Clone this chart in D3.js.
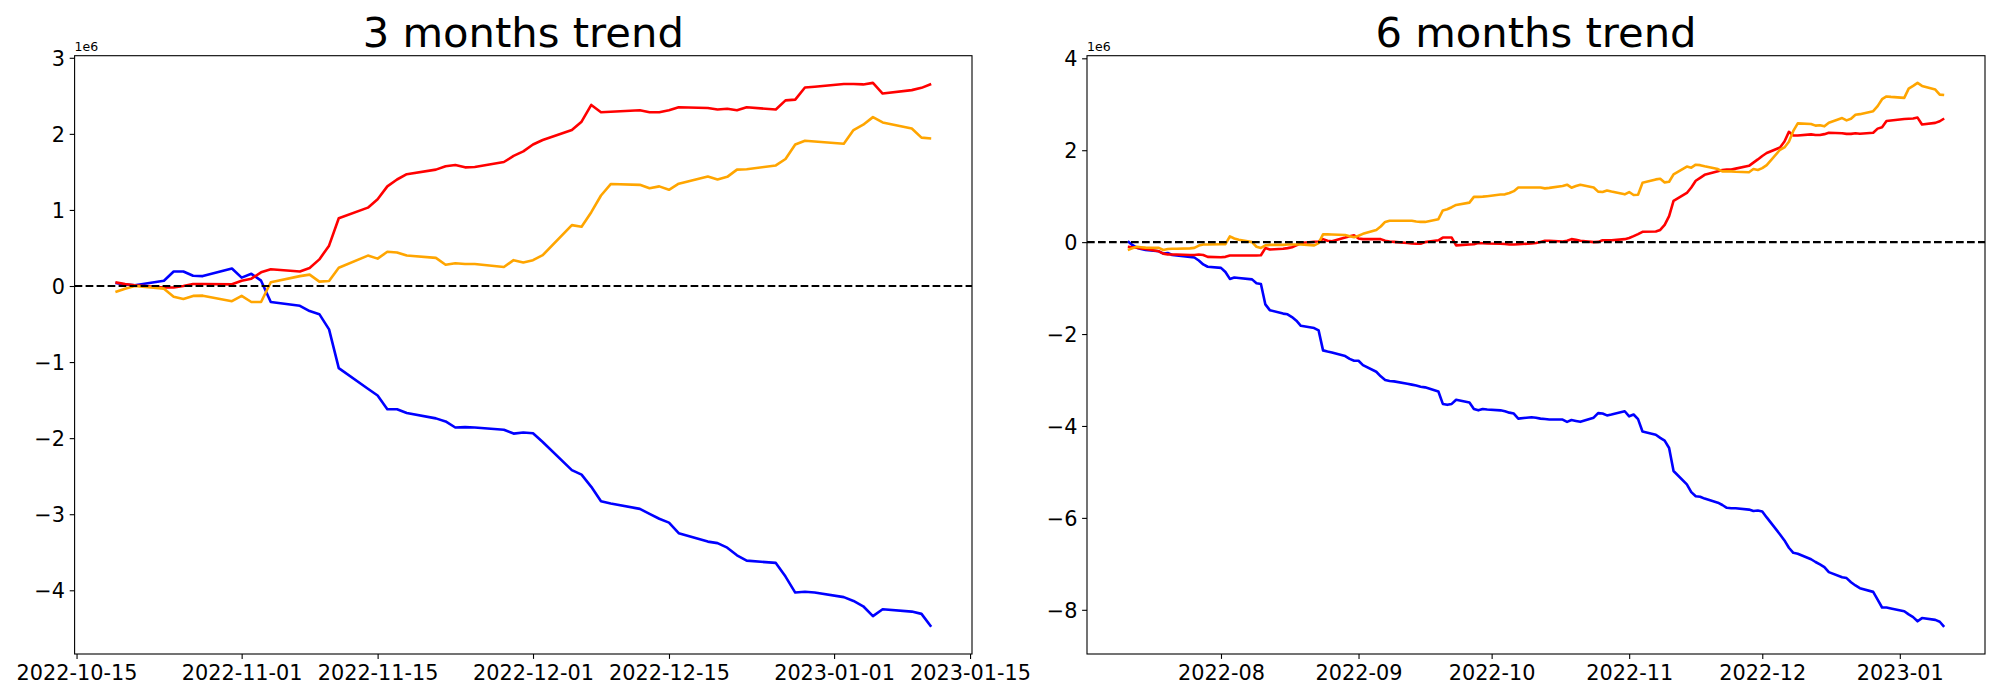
<!DOCTYPE html>
<html lang="en">
<head>
<meta charset="UTF-8">
<title>3 and 6 months trend</title>
<script src="https://d3js.org/d3.v7.min.js"></script>
<style>
  body { margin: 0; background: #fff; }
  svg { display: block; font-family: "DejaVu Sans", sans-serif; }
</style>
</head>
<body>
<svg id="chart" width="2000" height="700"></svg>
<script>
// values in units of 1e6, one per business day
const range3 = ["2022-10-19", "2023-01-11"];
const red3 = [0.048, 0.026, 0.01,
  -0.02, -0.02, 0.0, 0.026, 0.026,
  0.022, 0.07, 0.096, 0.18, 0.22,
  0.19, 0.236, 0.35, 0.53, 0.89,
  1.03, 1.14, 1.31, 1.40, 1.47,
  1.53, 1.575, 1.59, 1.56, 1.565,
  1.63, 1.71, 1.77, 1.86, 1.92,
  2.05, 2.16, 2.38, 2.285, 2.29,
  2.31, 2.285, 2.285, 2.31, 2.35,
  2.34, 2.32, 2.33, 2.31, 2.35,
  2.32, 2.44, 2.45, 2.61, 2.62,
  2.656, 2.656, 2.65, 2.67, 2.53,
  2.575, 2.605, 2.656];
const orange3 = [-0.079, -0.035, 0.0,
  -0.035, -0.14, -0.17, -0.13, -0.127,
  -0.2, -0.13, -0.21, -0.21, 0.05,
  0.13, 0.15, 0.057, 0.066, 0.24,
  0.40, 0.36, 0.45, 0.44, 0.40,
  0.37, 0.28, 0.30, 0.29, 0.29,
  0.25, 0.34, 0.31, 0.34, 0.405,
  0.80, 0.78, 0.97, 1.19, 1.34,
  1.33, 1.285, 1.31, 1.265, 1.345,
  1.44, 1.40, 1.435, 1.53, 1.535,
  1.585, 1.67, 1.86, 1.91, 1.90,
  1.87, 2.05, 2.12, 2.22, 2.15,
  2.07, 1.95, 1.94];
const blue3 = [0.04, 0.02, 0.01,
  0.07, 0.19, 0.19, 0.135, 0.13,
  0.23, 0.11, 0.16, 0.07, -0.21,
  -0.26, -0.33, -0.37, -0.57, -1.08,
  -1.35, -1.44, -1.62, -1.62, -1.67,
  -1.74, -1.78, -1.86, -1.855, -1.86,
  -1.89, -1.94, -1.925, -1.935, -2.05,
  -2.42, -2.48, -2.64, -2.83, -2.86,
  -2.93, -2.995, -3.06, -3.11, -3.25,
  -3.36, -3.38, -3.44, -3.54, -3.61,
  -3.64, -3.82, -4.03, -4.02, -4.03,
  -4.09, -4.14, -4.21, -4.34, -4.25,
  -4.28, -4.31, -4.48];

const range6 = ["2022-07-11", "2023-01-11"];
const red6 = [-0.10, -0.11, -0.12, -0.135, -0.15,
  -0.20, -0.25, -0.27, -0.27, -0.27,
  -0.28, -0.28, -0.27, -0.28, -0.32,
  -0.33, -0.32, -0.29, -0.29, -0.29,
  -0.29, -0.29, -0.285, -0.13, -0.16,
  -0.145, -0.13, -0.11, -0.07, -0.02,
  0.01, 0.015, 0.065, 0.03, 0.02,
  0.10, 0.13, 0.15, 0.08, 0.065,
  0.065, 0.065, 0.03, 0.015, 0.005,
  -0.02, -0.03, -0.035, -0.035, 0.0,
  0.04, 0.10, 0.10, 0.10, -0.07,
  -0.05, -0.045, -0.02, -0.025, -0.03,
  -0.035, -0.04, -0.05, -0.05, -0.045,
  -0.03, -0.02, 0.005, 0.03, 0.03,
  0.015, 0.03, 0.065, 0.05, 0.03,
  0.0, 0.005, 0.04, 0.04, 0.04,
  0.065, 0.09, 0.13, 0.175, 0.225,
  0.23, 0.265, 0.375, 0.565, 0.90,
  1.07, 1.19, 1.335, 1.40, 1.465,
  1.54, 1.57, 1.58, 1.58, 1.60,
  1.66, 1.73, 1.80, 1.875, 1.94,
  2.06, 2.19, 2.40, 2.32, 2.32,
  2.345, 2.33, 2.33, 2.35, 2.38,
  2.37, 2.355, 2.355, 2.37, 2.36,
  2.38, 2.47, 2.50, 2.635, 2.645,
  2.68, 2.685, 2.69, 2.71, 2.56,
  2.595, 2.63, 2.69];
const orange6 = [-0.17, -0.135, -0.10, -0.11, -0.12,
  -0.125, -0.17, -0.15, -0.145, -0.145,
  -0.135, -0.125, -0.075, -0.05, -0.05,
  -0.045, -0.045, 0.125, 0.08, 0.05,
  0.0, -0.10, -0.125, -0.07, -0.06,
  -0.06, -0.05, -0.05, -0.05, -0.05,
  -0.07, -0.02, 0.17, 0.17, 0.165,
  0.155, 0.13, 0.105, 0.14, 0.18,
  0.265, 0.34, 0.44, 0.465, 0.465,
  0.465, 0.465, 0.45, 0.44, 0.44,
  0.50, 0.69, 0.715, 0.76, 0.81,
  0.86, 0.985, 0.985, 0.99, 1.0,
  1.035, 1.04, 1.07, 1.11, 1.19,
  1.19, 1.19, 1.19, 1.17, 1.18,
  1.22, 1.25, 1.185, 1.22, 1.25,
  1.19, 1.10, 1.09, 1.125, 1.10,
  1.04, 1.09, 1.025, 1.03, 1.29,
  1.365, 1.38, 1.30, 1.315, 1.475,
  1.645, 1.62, 1.685, 1.675, 1.65,
  1.59, 1.54, 1.54, 1.54, 1.53,
  1.52, 1.59, 1.57, 1.61, 1.675,
  2.01, 2.06, 2.185, 2.42, 2.585,
  2.57, 2.535, 2.545, 2.52, 2.60,
  2.70, 2.65, 2.685, 2.77, 2.785,
  2.85, 2.96, 3.11, 3.17, 3.16,
  3.14, 3.34, 3.40, 3.465, 3.40,
  3.32, 3.21, 3.20];
const blue6 = [0.02, -0.06, -0.12, -0.15, -0.17,
  -0.20, -0.25, -0.235, -0.28, -0.29,
  -0.32, -0.335, -0.40, -0.485, -0.535,
  -0.56, -0.65, -0.80, -0.77, -0.78,
  -0.81, -0.895, -0.91, -1.355, -1.48,
  -1.555, -1.57, -1.63, -1.71, -1.82,
  -1.87, -1.92, -2.355, -2.38, -2.40,
  -2.48, -2.54, -2.58, -2.58, -2.675,
  -2.82, -2.92, -3.0, -3.02, -3.03,
  -3.08, -3.10, -3.12, -3.145, -3.16,
  -3.25, -3.52, -3.54, -3.52, -3.43,
  -3.49, -3.63, -3.66, -3.63, -3.64,
  -3.66, -3.68, -3.71, -3.73, -3.84,
  -3.81, -3.82, -3.84, -3.85, -3.86,
  -3.86, -3.91, -3.87, -3.89, -3.91,
  -3.82, -3.72, -3.73, -3.77, -3.75,
  -3.68, -3.79, -3.75, -3.85, -4.12,
  -4.19, -4.26, -4.32, -4.48, -4.98,
  -5.27, -5.44, -5.53, -5.54, -5.58,
  -5.67, -5.72, -5.78, -5.79, -5.79,
  -5.82, -5.85, -5.84, -5.86, -5.99,
  -6.36, -6.49, -6.65, -6.76, -6.78,
  -6.90, -6.96, -7.01, -7.07, -7.18,
  -7.29, -7.31, -7.40, -7.47, -7.53,
  -7.61, -7.78, -7.95, -7.95, -7.97,
  -8.03, -8.10, -8.16, -8.25, -8.18,
  -8.22, -8.26, -8.37];

const xTicks3 = ["2022-10-15", "2022-11-01", "2022-11-15", "2022-12-01", "2022-12-15", "2023-01-01", "2023-01-15"];
const xTicks6 = ["2022-08", "2022-09", "2022-10", "2022-11", "2022-12", "2023-01"];
const yTicks3 = [-4, -3, -2, -1, 0, 1, 2, 3];
const yTicks6 = [-8, -6, -4, -2, 0, 2, 4];

const parse = d3.utcParse("%Y-%m-%d");
const parseMonth = d3.utcParse("%Y-%m");

// weekdays between two dates (inclusive)
function businessDays(r) {
  const a = parse(r[0]), b = d3.utcDay.offset(parse(r[1]), 1);
  return d3.utcDay.range(a, b).filter(d => d.getUTCDay() !== 0 && d.getUTCDay() !== 6);
}

const panels = [
  {
    title: "3 months trend", left: 74.6, right: 972,
    dates: businessDays(range3),
    series: [["blue", blue3], ["red", red3], ["orange", orange3]],
    xTicks: xTicks3.map(parse), xFmt: d3.utcFormat("%Y-%m-%d"), yTicks: yTicks3
  },
  {
    title: "6 months trend", left: 1087, right: 1985,
    dates: businessDays(range6),
    series: [["blue", blue6], ["red", red6], ["orange", orange6]],
    xTicks: xTicks6.map(parseMonth), xFmt: d3.utcFormat("%Y-%m"), yTicks: yTicks6
  }
];

const axTop = 55.7, axBottom = 654;
const svg = d3.select("#chart");
const minus = s => s.replace("-", "\u2212");

panels.forEach(p => {
  const t0 = p.dates[0], t1 = p.dates[p.dates.length - 1];
  const dx = (t1 - t0) * 0.05;
  const x = d3.scaleUtc()
    .domain([new Date(+t0 - dx), new Date(+t1 + dx)])
    .range([p.left, p.right]);

  const all = p.series.flatMap(s => s[1]);
  const lo = d3.min(all), hi = d3.max(all), dy = (hi - lo) * 0.05;
  const y = d3.scaleLinear().domain([lo - dy, hi + dy]).range([axBottom, axTop]);

  const g = svg.append("g");

  const line = d3.line()
    .x((d, i) => x(p.dates[i]))
    .y(d => y(d));

  p.series.forEach(([color, vals]) => {
    g.append("path")
      .datum(vals)
      .attr("fill", "none")
      .attr("stroke", color)
      .attr("stroke-width", 2.6)
      .attr("stroke-linejoin", "round")
      .attr("d", line);
  });

  // zero reference
  g.append("line")
    .attr("x1", p.left).attr("x2", p.right)
    .attr("y1", y(0)).attr("y2", y(0))
    .attr("stroke", "#000")
    .attr("stroke-width", 2.1)
    .attr("stroke-dasharray", "7.7,3.3");

  // frame
  g.append("rect")
    .attr("x", p.left).attr("y", axTop)
    .attr("width", p.right - p.left).attr("height", axBottom - axTop)
    .attr("fill", "none").attr("stroke", "#000").attr("stroke-width", 1.1);

  const xAxis = g.append("g")
    .attr("transform", `translate(0,${axBottom})`)
    .call(d3.axisBottom(x).tickValues(p.xTicks).tickFormat(p.xFmt)
      .tickSize(4.9).tickSizeOuter(0).tickPadding(6.3));

  const yAxis = g.append("g")
    .attr("transform", `translate(${p.left},0)`)
    .call(d3.axisLeft(y).tickValues(p.yTicks).tickFormat(d => minus(String(d)))
      .tickSize(4.9).tickSizeOuter(0).tickPadding(4.7));

  [xAxis, yAxis].forEach(a => {
    a.select(".domain").remove();
    a.selectAll(".tick line").attr("stroke", "#000").attr("stroke-width", 1.1);
    a.selectAll(".tick text")
      .attr("fill", "#000")
      .style("font-size", "20.8px")
      .style("font-family", "'DejaVu Sans', sans-serif");
  });
  yAxis.selectAll(".tick text").attr("dy", "0.36em");

  // offset label
  g.append("text")
    .attr("x", p.left).attr("y", 50.7)
    .style("font-size", "12.5px")
    .text("1e6");

  g.append("text")
    .attr("x", (p.left + p.right) / 2).attr("y", 47.4)
    .attr("text-anchor", "middle")
    .style("font-size", "41.7px")
    .text(p.title);
});
</script>
</body>
</html>
